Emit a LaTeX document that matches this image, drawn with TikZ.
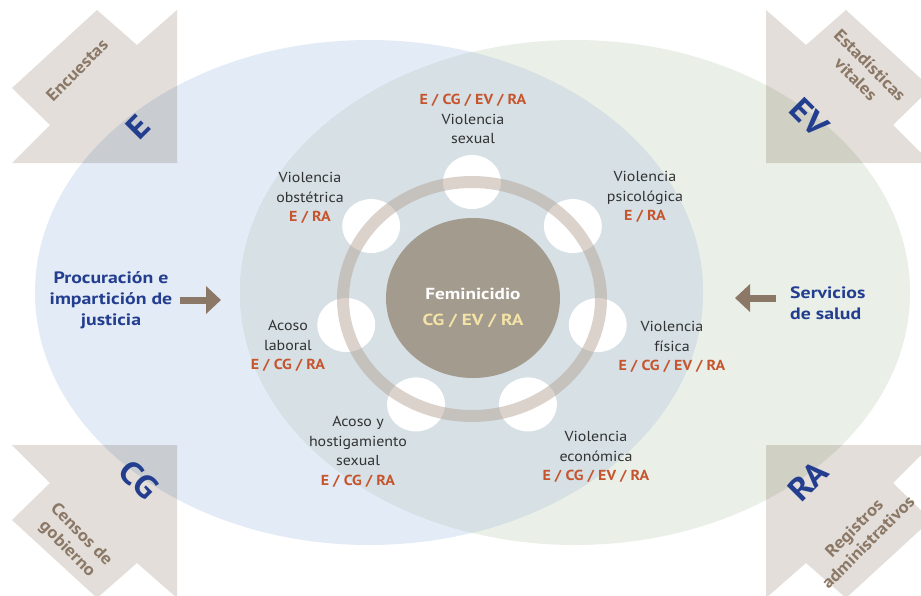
\documentclass[tikz,border=0pt]{standalone}
\usepackage{fontspec}
\setmainfont{PT Sans}[FakeStretch=1.1]
\newfontfamily\anchafont{PT Sans}[FakeStretch=1.2]
\usetikzlibrary{arrows.meta}

\definecolor{azulelip}{RGB}{226,235,246}
\definecolor{verdeelip}{RGB}{234,240,232}
\definecolor{lente}{RGB}{214,224,229}
\definecolor{flechagris}{RGB}{227,222,217}
\definecolor{anillo}{RGB}{178,157,143}
\definecolor{disco}{RGB}{164,155,143}
\definecolor{cafe}{RGB}{139,120,102}
\definecolor{azultxt}{RGB}{35,62,143}
\definecolor{rojotxt}{RGB}{198,85,46}
\definecolor{gristxt}{RGB}{50,50,50}
\definecolor{amarillo}{RGB}{243,227,166}

\newcommand{\codigo}[1]{{\color{rojotxt}\bfseries #1}}

\tikzset{
  etiqueta/.style={align=center, text=gristxt, inner sep=0pt, font=\fontsize{14.5}{19.5}\selectfont},
  fuente/.style={text=azultxt, inner sep=0pt, font=\anchafont\bfseries\fontsize{16.5}{21}\selectfont},
  rotulo/.style={align=center, text=cafe, inner sep=0pt, font=\bfseries\fontsize{17}{20}\selectfont},
  sigla/.style={text=azultxt, inner sep=0pt, font=\bfseries\fontsize{32}{32}\selectfont},
  flecha/.style={cafe, line width=7pt, -{Triangle[width=27pt,length=15pt]}},
}

\begin{document}
\begin{tikzpicture}[x=1pt,y=-1pt]

\useasboundingbox (0,0) rectangle (921,595);
\clip (0,0) rectangle (921,595);

% flechas de las esquinas
\foreach \sx/\sy/\dx/\dy in {1/1/0/0, -1/1/943/0, 1/-1/0/608, -1/-1/943/608}
  \fill[flechagris, shift={(\dx,\dy)}, xscale=\sx, yscale=\sy]
    (177,10) -- (137,45) -- (97,10) -- (12,88) -- (50,125) -- (12,163) -- (177,163) -- cycle;

% elipses
\fill[azulelip, blend mode=multiply] (369,292.5) ellipse [x radius=334, y radius=252.5];
\fill[verdeelip, blend mode=multiply] (575,292.5) ellipse [x radius=335, y radius=252.5];
\begin{scope}
  \clip (369,292.5) ellipse [x radius=334, y radius=252.5];
  \fill[lente] (575,292.5) ellipse [x radius=335, y radius=252.5];
\end{scope}

\coordinate (centro) at (472,299);

\foreach \i in {0,...,6}
  \fill[white] (centro) ++({-90+\i*51.43}:129 and 117) ellipse [x radius=29, y radius=27];

\draw[anillo, draw opacity=0.46, line width=12pt] (centro) ellipse [x radius=129, y radius=117];
\fill[disco] (473,298) ellipse [x radius=87, y radius=80];

\node[align=center, inner sep=0pt, font=\anchafont\bfseries\fontsize{16}{26}\selectfont, text=white] (femi) at (473,308)
  {Feminicidio\\{\color{amarillo}CG / EV / RA}};

% tipos de violencia
\node[etiqueta] (sexual) at (473,119) {\codigo{E / CG / EV / RA}\\Violencia\\sexual};
\node[etiqueta] (obstetrica) at (310,198) {Violencia\\obstétrica\\\codigo{E / RA}};
\node[etiqueta] (psicologica) at (645,197) {Violencia\\psicológica\\\codigo{E / RA}};
\node[etiqueta] (laboral) at (288,346) {Acoso\\laboral\\\codigo{E / CG / RA}};
\node[etiqueta] (fisica) at (672,347) {Violencia\\física\\\codigo{E / CG / EV / RA}};
\node[etiqueta] (hostigamiento) at (358,452) {Acoso y\\hostigamiento\\sexual\\\codigo{E / CG / RA}};
\node[etiqueta] (economica) at (596,457) {Violencia\\económica\\\codigo{E / CG / EV / RA}};

% fuentes laterales
\node[fuente, align=center] (procu) at (111,300) {Procuración e\\impartición de\\justicia};
\node[fuente, align=left, anchor=west] (salud) at (790,303) {Servicios\\de salud};

\coordinate (colaizq) at (180,300);
\coordinate (puntaizq) at (221,300);
\coordinate (colader) at (776,298);
\coordinate (puntader) at (735,298);
\draw[flecha] (colaizq) -- (puntaizq);
\draw[flecha] (colader) -- (puntader);

% rotulos de las esquinas
\node[rotulo, rotate=45] (encuestas) at (77,70) {Encuestas};
\node[rotulo, rotate=-45] (estadisticas) at (863,72) {Estadísticas\\vitales};
\node[rotulo, rotate=-45] (censos) at (74,542) {Censos de\\gobierno};
\node[rotulo, rotate=45] (registros) at (861,535) {Registros\\administrativos};

\node[sigla, rotate=45] (siglaE) at (138,127) {E};
\node[sigla, rotate=-45] (siglaEV) at (809,118) {EV};
\node[sigla, rotate=-45] (siglaCG) at (139,480) {CG};
\node[sigla, rotate=45] (siglaRA) at (808,481) {RA};

\end{tikzpicture}
\end{document}
